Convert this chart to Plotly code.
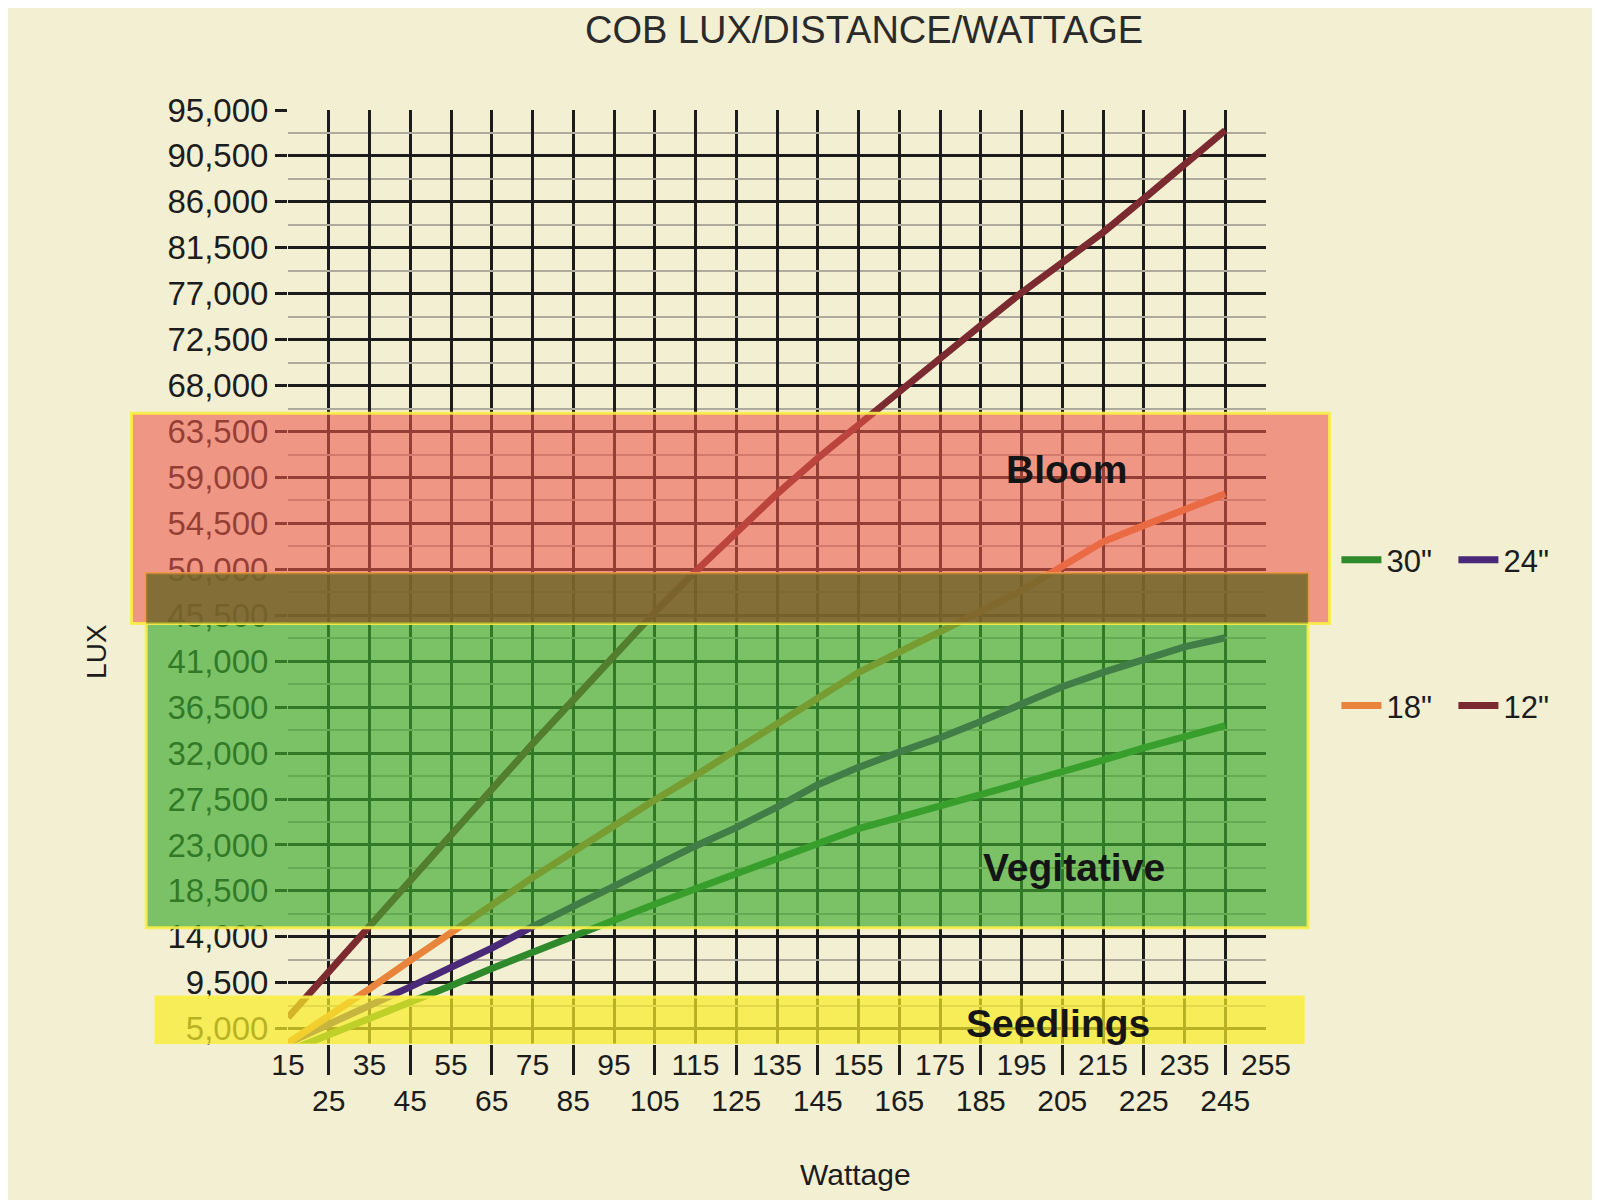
import plotly.graph_objects as go

chart_title = "COB LUX/DISTANCE/WATTAGE"

# wattage points that carry data (the 255 W slot on the axis is left empty)
wattage = [15, 25, 35, 45, 55, 65, 75, 85, 95, 105, 115, 125,
           135, 145, 155, 165, 175, 185, 195, 205, 215, 225, 235, 245]

# lux, one list per hanging distance
lux_30in = [2800, 4400, 6000, 7500, 9200, 10900, 12500, 14100, 15700, 17200, 18700, 20200,
            21700, 23100, 24600, 25700, 26800, 27900, 29000, 30200, 31300, 32500, 33600, 34700]
lux_24in = [3600, 5400, 7300, 9100, 11000, 12900, 15000, 17000, 19000, 21000, 22900, 24700,
            26700, 28900, 30600, 32100, 33500, 35100, 36800, 38500, 39900, 41200, 42400, 43300]
lux_18in = [3600, 6200, 8900, 11700, 14500, 17100, 19800, 22400, 24900, 27400, 29800, 32300,
            34800, 37300, 39900, 41900, 43900, 45800, 47900, 50300, 52700, 54300, 55900, 57400]
lux_12in = [6100, 10600, 15100, 19600, 24100, 28500, 32900, 37200, 41500, 45800, 49800, 53700,
            57400, 60900, 64200, 67400, 70700, 73900, 77100, 80000, 83000, 86300, 89700, 93000]

series_names = ['30"', '24"', '18"', '12"']

# axis labels
x_ticks_upper = [15, 35, 55, 75, 95, 115, 135, 155, 175, 195, 215, 235, 255]
x_ticks_lower = [25, 45, 65, 85, 105, 125, 145, 165, 185, 205, 225, 245]
lux_ticks = [5000, 9500, 14000, 18500, 23000, 27500, 32000, 36500, 41000, 45500, 50000,
             54500, 59000, 63500, 68000, 72500, 77000, 81500, 86000, 90500, 95000]

# highlighted growth-stage bands (lux from / to)
band_names = ["Seedlings", "Vegitative", "Bloom"]
band_low = [3400, 14900, 44700]
band_high = [8100, 49600, 65300]

colors = ["#2f8a2c", "#4a2a78", "#e8843c", "#7b2a30"]
band_fill = ["rgba(246,236,40,0.72)", "rgba(60,170,45,0.66)", "rgba(236,88,74,0.58)"]
band_x = [(-0.135, 1.038), (-0.145, 1.043), (-0.16, 1.065)]
label_pos = [(204, 5500), (208, 20800), (206, 59800)]

paper = "#f2efd3"
ink = "#1c1c1c"
font = "Liberation Sans, Arial, sans-serif"

fig = go.Figure()

for name, ys, col, lg, xa in zip(series_names, [lux_30in, lux_24in, lux_18in, lux_12in], colors,
                                 ["legend", "legend", "legend2", "legend2"],
                                 ["x2", "x", "x", "x"]):
    fig.add_trace(go.Scatter(x=wattage, y=ys, mode="lines", name=name, xaxis=xa,
                             line=dict(color=col, width=7), legend=lg))

for i in range(len(band_names)):
    fig.add_shape(type="rect", xref="paper", yref="y",
                  x0=band_x[i][0], x1=band_x[i][1], y0=band_low[i], y1=band_high[i],
                  fillcolor=band_fill[i], line=dict(color="rgba(250,238,70,0.9)", width=3),
                  layer="above")

# where the two highlighter strokes cross, the ink darkens to olive
fig.add_shape(type="rect", xref="paper", yref="y",
              x0=band_x[1][0], x1=band_x[1][1], y0=band_low[2], y1=band_high[1],
              fillcolor="rgba(82,92,30,0.55)", line=dict(width=0), layer="above")

for i in range(len(band_names)):
    fig.add_annotation(x=label_pos[i][0], y=label_pos[i][1], text="<b>%s</b>" % band_names[i],
                       showarrow=False, font=dict(size=39, color="#151515", family=font))

fig.add_annotation(xref="paper", yref="paper", x=-0.213, y=0.42, text="LUX", textangle=-90,
                   showarrow=False, font=dict(size=28, color=ink, family=font))
fig.add_annotation(xref="paper", yref="paper", x=0.58, y=-0.14, yanchor="middle", text="Wattage",
                   showarrow=False, font=dict(size=30, color=ink, family=font))

legend_style = dict(orientation="h", xanchor="left", yanchor="middle", x=1.072,
                    bgcolor="rgba(0,0,0,0)", font=dict(size=31, color=ink),
                    entrywidth=62, itemwidth=40, tracegroupgap=0)

fig.update_layout(
    width=1600, height=1200,
    paper_bgcolor=paper, plot_bgcolor=paper,
    margin=dict(l=280, r=342, t=102, b=164),
    font=dict(family=font, color=ink),
    title=dict(text=chart_title, x=0.535, xanchor="center", y=0.982, yanchor="middle",
               font=dict(size=38, color="#2a2a2a", family=font)),
    xaxis=dict(range=[15, 255], tickmode="array", tickvals=x_ticks_upper,
               ticktext=[str(v) for v in x_ticks_upper], ticks="", showline=False,
               showgrid=True, gridcolor=ink, gridwidth=3, zeroline=False,
               tickfont=dict(size=30, color=ink),
               minor=dict(tickmode="array", tickvals=x_ticks_lower, showgrid=True,
                          gridcolor=ink, gridwidth=3, ticks="")),
    xaxis2=dict(range=[15, 255], overlaying="x", anchor="y", side="bottom",
                tickmode="array", tickvals=x_ticks_lower,
                ticktext=[str(v) for v in x_ticks_lower],
                ticks="outside", ticklen=30, tickwidth=3, tickcolor=ink,
                showgrid=False, showline=False, zeroline=False,
                tickfont=dict(size=30, color=ink)),
    yaxis=dict(range=[3500, 95000], tickmode="array", tickvals=lux_ticks,
               ticktext=["{:,}".format(v) for v in lux_ticks],
               ticks="outside", ticklen=12, tickwidth=3, tickcolor=ink,
               showgrid=True, gridcolor=ink, gridwidth=3, zeroline=False, showline=False,
               tickfont=dict(size=33, color=ink),
               minor=dict(tickmode="array",
                          tickvals=[v + 2250 for v in lux_ticks[:-1]] + [2750],
                          showgrid=True, gridcolor="#aeab9c", gridwidth=1.5, ticks="")),
    legend=dict(legend_style, y=0.518),
    legend2=dict(legend_style, y=0.362),
    showlegend=True,
)

fig.write_html("out.html")
